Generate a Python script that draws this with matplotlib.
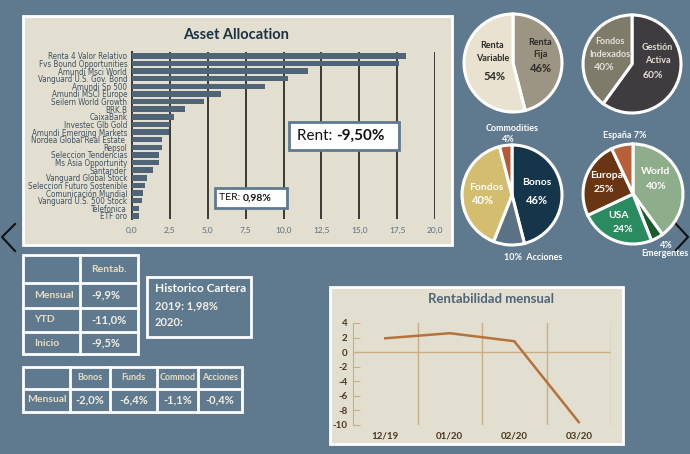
import matplotlib
matplotlib.use("Agg")
import numpy as np
import matplotlib.pyplot as plt
from matplotlib.patches import Rectangle

plt.rcParams['font.family'] = ['Lato', 'DejaVu Sans']
plt.rcParams['axes.unicode_minus'] = False

# ---- data ----
funds = ["Renta 4 Valor Relativo", "Fvs Bound Opportunities", "Amundi Msci World",
         "Vanguard U.S. Gov. Bond", "Amundi Sp 500", "Amundi MSCI Europe",
         "Seilern World Growth", "BRK.B", "CaixaBank", "Investec Glb Gold",
         "Amundi Emerging Markets", "Nordea Global Real Estate ", "Repsol",
         "Seleccion Tendencias", "Ms Asia Opportunity", "Santander",
         "Vanguard Global Stock", "Seleccion Futuro Sostenible", "Comunicación Mundial",
         "Vanguard U.S. 500 Stock", "Telefonica", "ETF oro"]
weights = [18.1, 17.6, 11.6, 10.3, 8.8, 5.9, 4.75, 3.5, 2.75, 2.5, 2.45, 2.0, 2.0,
           1.78, 1.76, 1.36, 0.97, 0.83, 0.72, 0.65, 0.46, 0.45]
bar_ticks = [0, 2.5, 5, 7.5, 10, 12.5, 15, 17.5, 20]

rent_total = "-9,50%"
ter = "0,98%"

tipo_labels = ["Renta\nFija", "Renta\nVariable"]
tipo_vals = [46, 54]
gestion_labels = ["Gestión\nActiva", "Fondos\nIndexados"]
gestion_vals = [60, 40]
activo_labels = ["Bonos", "Acciones", "Fondos", "Commodities"]
activo_vals = [46, 10, 40, 4]
zona_labels = ["World", "Emergentes", "USA", "Europa", "España"]
zona_vals = [40, 4, 24, 25, 7]

rentab_rows = ["Mensual", "YTD", "Inicio"]
rentab_vals = ["-9,9%", "-11,0%", "-9,5%"]
tipo_cols = ["Bonos", "Funds", "Commod", "Acciones"]
tipo_mensual = ["-2,0%", "-6,4%", "-1,1%", "-0,4%"]
historico = ["2019: 1,98%", "2020:"]

months = ["12/19", "01/20", "02/20", "03/20"]
monthly = [1.9, 2.6, 1.5, -9.6]

# ---- style ----
W, H = 690, 454
BG = '#5F7A8E'
PANEL = '#E2DFD0'
BAR = '#4F6577'
CREAM = '#E9DEC2'
TAN = '#CBAE86'

fig = plt.figure(figsize=(6.9, 4.54), dpi=100, facecolor=BG)


def box(x0, y0, x1, y1):
    # pixel rect (top-left origin) -> figure fraction
    return [x0 / W, 1 - y1 / H, (x1 - x0) / W, (y1 - y0) / H]


def pixel_axes(z):
    a = fig.add_axes([0, 0, 1, 1], zorder=z)
    a.set_xlim(0, W)
    a.set_ylim(H, 0)
    a.axis('off')
    return a


bg = pixel_axes(0)
fg = pixel_axes(10)

# panels
bg.add_patch(Rectangle((23, 16), 429, 229, facecolor=PANEL, edgecolor='white', lw=2))
bg.add_patch(Rectangle((330, 287), 293, 157, facecolor=PANEL, edgecolor='white', lw=2))
bg.text(236, 35, "Asset Allocation", ha='center', va='center', fontsize=10.5,
        fontweight='bold', color='#1C3144')
bg.text(491, 299, "Rentabilidad mensual", ha='center', va='center', fontsize=9.5,
        fontweight='bold', color='#4F6577')

# chevrons
bg.plot([15, 2, 15], [224, 237, 251], color='#111111', lw=1.5)
bg.plot([676, 688, 676], [224, 237, 250], color='#111111', lw=1.5)

# ---- bar chart ----
ax = fig.add_axes(box(132, 52, 435, 219), zorder=1)
ax.set_facecolor('none')
y = np.arange(len(funds))
ax.barh(y, weights, height=0.72, color=BAR, zorder=3)
ax.set_xlim(0, 20)
ax.set_ylim(len(funds) - 0.6, -0.5)
ax.set_yticks(y, funds)
ax.set_xticks(bar_ticks, [f"{v:.1f}".replace('.', ',') for v in bar_ticks])
ax.grid(axis='x', color='#3A3A34', lw=1.4, zorder=1)
for s in ['top', 'right', 'bottom']:
    ax.spines[s].set_visible(False)
ax.spines['left'].set_color('#3A3A34')
ax.spines['left'].set_linewidth(1.4)
ax.tick_params(length=0)
ax.tick_params(axis='y', pad=3.5, labelcolor='#3D5163')
ax.tick_params(axis='x', pad=6, labelcolor='#5A6E80', labelsize=6)
for lab in ax.get_yticklabels():
    lab.set_family('DejaVu Sans')
    lab.set_stretch('condensed')
    lab.set_fontsize(5.8)


def two_part(x, y0, a, b, size):
    t = fg.text(x, y0, a, fontsize=size, ha='left', va='center', color='#111111')
    fg.annotate(b, xy=(1, 0), xycoords=t, ha='left', va='bottom', fontsize=size,
                fontweight='bold', color='#111111')


fg.add_patch(Rectangle((289, 122), 110, 28, facecolor='white', edgecolor='#5F7A8E', lw=2))
two_part(297, 136, "Rent: ", rent_total, 11)
fg.add_patch(Rectangle((215, 188), 72, 20, facecolor='white', edgecolor='#5F7A8E', lw=2))
two_part(219, 198, "TER: ", ter, 7.5)


# ---- pies ----
def pie(cx, cy, vals, cols, r=49):
    k = 1.04
    pa = fig.add_axes(box(cx - r * k, cy - r * k, cx + r * k, cy + r * k), zorder=2)
    pa.pie(vals, colors=cols, startangle=90, counterclock=False, radius=1,
           wedgeprops=dict(edgecolor='white', linewidth=2.2))
    pa.set_xlim(-k, k)
    pa.set_ylim(-k, k)
    pa.set_aspect('equal')
    return pa


def plabel(pa, x, y0, s, c, size=6.5):
    pa.text(x, y0, s, ha='center', va='center', fontsize=size, fontweight='bold',
            color=c, linespacing=1.5)


p1 = pie(513, 63, tipo_vals, ['#9D9584', '#EAE2D0'])
plabel(p1, 0.56, 0.3, tipo_labels[0], '#2A2A2A')
plabel(p1, 0.56, -0.12, f"{tipo_vals[0]}%", '#2A2A2A', 8)
plabel(p1, -0.42, 0.22, tipo_labels[1], '#2A2A2A')
plabel(p1, -0.37, -0.28, f"{tipo_vals[1]}%", '#2A2A2A', 8)

p2 = pie(632, 64, gestion_vals, ['#3E3C3E', '#7F7B6B'])
plabel(p2, 0.52, 0.2, gestion_labels[0], '#E4E0D8')
plabel(p2, 0.43, -0.23, f"{gestion_vals[0]}%", '#E4E0D8', 7.5)
plabel(p2, -0.45, 0.33, gestion_labels[1], '#E4E0D8')
plabel(p2, -0.56, -0.07, f"{gestion_vals[1]}%", '#E4E0D8', 7.5)

p3 = pie(512, 195, activo_vals, ['#15364A', '#5B7285', '#D3BD6F', '#B65A35'], r=50)
plabel(p3, 0.49, 0.25, activo_labels[0], 'white', 7.5)
plabel(p3, 0.5, -0.1, f"{activo_vals[0]}%", 'white', 8)
plabel(p3, -0.51, 0.15, activo_labels[2], 'white', 7.5)
plabel(p3, -0.58, -0.1, f"{activo_vals[2]}%", 'white', 8)
plabel(p3, 0.0, 1.33, activo_labels[3], 'white', 6.5)
plabel(p3, -0.08, 1.1, f"{activo_vals[3]}%", 'white', 6.5)
plabel(p3, 0.42, -1.24, f"{activo_vals[1]}%  {activo_labels[1]}", 'white', 6.5)

p4 = pie(633, 194, zona_vals, ['#8EAD8A', '#1D5A2B', '#2A8B60', '#6A3512', '#B75F38'], r=50)
plabel(p4, 0.46, 0.44, zona_labels[0], 'white', 7.5)
plabel(p4, 0.46, 0.15, f"{zona_vals[0]}%", 'white', 7.5)
plabel(p4, -0.53, 0.36, zona_labels[3], 'white', 7.5)
plabel(p4, -0.58, 0.1, f"{zona_vals[3]}%", 'white', 7.5)
plabel(p4, -0.28, -0.42, zona_labels[2], 'white', 7.5)
plabel(p4, -0.2, -0.7, f"{zona_vals[2]}%", 'white', 7.5)
plabel(p4, -0.16, 1.17, f"{zona_labels[4]} {zona_vals[4]}%", 'white', 6.5)
plabel(p4, 0.67, -1.03, f"{zona_vals[1]}%", 'white', 6.5)
plabel(p4, 0.64, -1.2, zona_labels[1], 'white', 6.5)

# ---- tables ----
LW = 2
bg.add_patch(Rectangle((23, 255), 115, 99, facecolor='none', edgecolor='white', lw=LW))
bg.plot([80, 80], [255, 354], color='white', lw=LW)
for yy in [283, 308, 332]:
    bg.plot([23, 138], [yy, yy], color='white', lw=LW)
bg.text(109, 269, "Rentab.", ha='center', va='center', fontsize=7.5,
        fontweight='bold', color=CREAM)
for name, val, yy in zip(rentab_rows, rentab_vals, [295, 320, 343]):
    bg.text(34, yy, name, ha='left', va='center', fontsize=7.5, fontweight='bold', color=CREAM)
    bg.text(91, yy, val, ha='left', va='center', fontsize=8, fontweight='bold', color='#F3EFE6')

bg.add_patch(Rectangle((147, 277), 104, 60, facecolor='none', edgecolor='white', lw=LW))
bg.text(155, 289, "Historico Cartera", ha='left', va='center', fontsize=8.6,
        fontweight='bold', color='white')
for s, yy in zip(historico, [306, 322]):
    bg.text(155, yy, s, ha='left', va='center', fontsize=8, fontweight='bold', color='#F3EFE6')

bg.add_patch(Rectangle((23, 367), 219, 45, facecolor='none', edgecolor='white', lw=LW))
bg.plot([23, 242], [389, 389], color='white', lw=LW)
col_edges = [23, 70, 110, 157, 198, 242]
for xx in col_edges[1:-1]:
    bg.plot([xx, xx], [367, 412], color='white', lw=LW)
bg.text(47, 400, "Mensual", ha='center', va='center', fontsize=7.5, fontweight='bold', color=CREAM)
for i, (h, v) in enumerate(zip(tipo_cols, tipo_mensual)):
    xc = (col_edges[i + 1] + col_edges[i + 2]) / 2
    bg.text(xc, 377, h, ha='center', va='center', fontsize=6.5, fontweight='bold', color=CREAM)
    bg.text(xc, 400, v, ha='center', va='center', fontsize=8, fontweight='bold', color='#F3EFE6')

# ---- line chart ----
lx = fig.add_axes(box(353, 323, 611, 425), zorder=1)
lx.set_facecolor('none')
xi = np.arange(len(months))
lx.axhline(0, color=TAN, lw=1, zorder=1)
lx.plot(xi, monthly, color='#B5733B', lw=1.8, zorder=3)
lx.set_xlim(-0.5, len(months) - 0.5)
lx.set_ylim(-10, 4)
lx.set_xticks(xi, months)
lx.set_xticks(xi + 0.5, minor=True)
lx.set_yticks(np.arange(-10, 5, 2))
lx.grid(which='minor', axis='x', color=TAN, lw=1)
for s in ['top', 'right', 'bottom']:
    lx.spines[s].set_visible(False)
lx.spines['left'].set_color(TAN)
lx.tick_params(axis='y', direction='in', length=5, color=TAN, pad=4)
lx.tick_params(axis='x', which='both', length=0, pad=5)
for lab in lx.get_xticklabels() + lx.get_yticklabels():
    lab.set_fontweight('bold')
    lab.set_color('#4B3622')
    lab.set_fontsize(7)

fig.savefig("out.png", dpi=100, facecolor=BG)
